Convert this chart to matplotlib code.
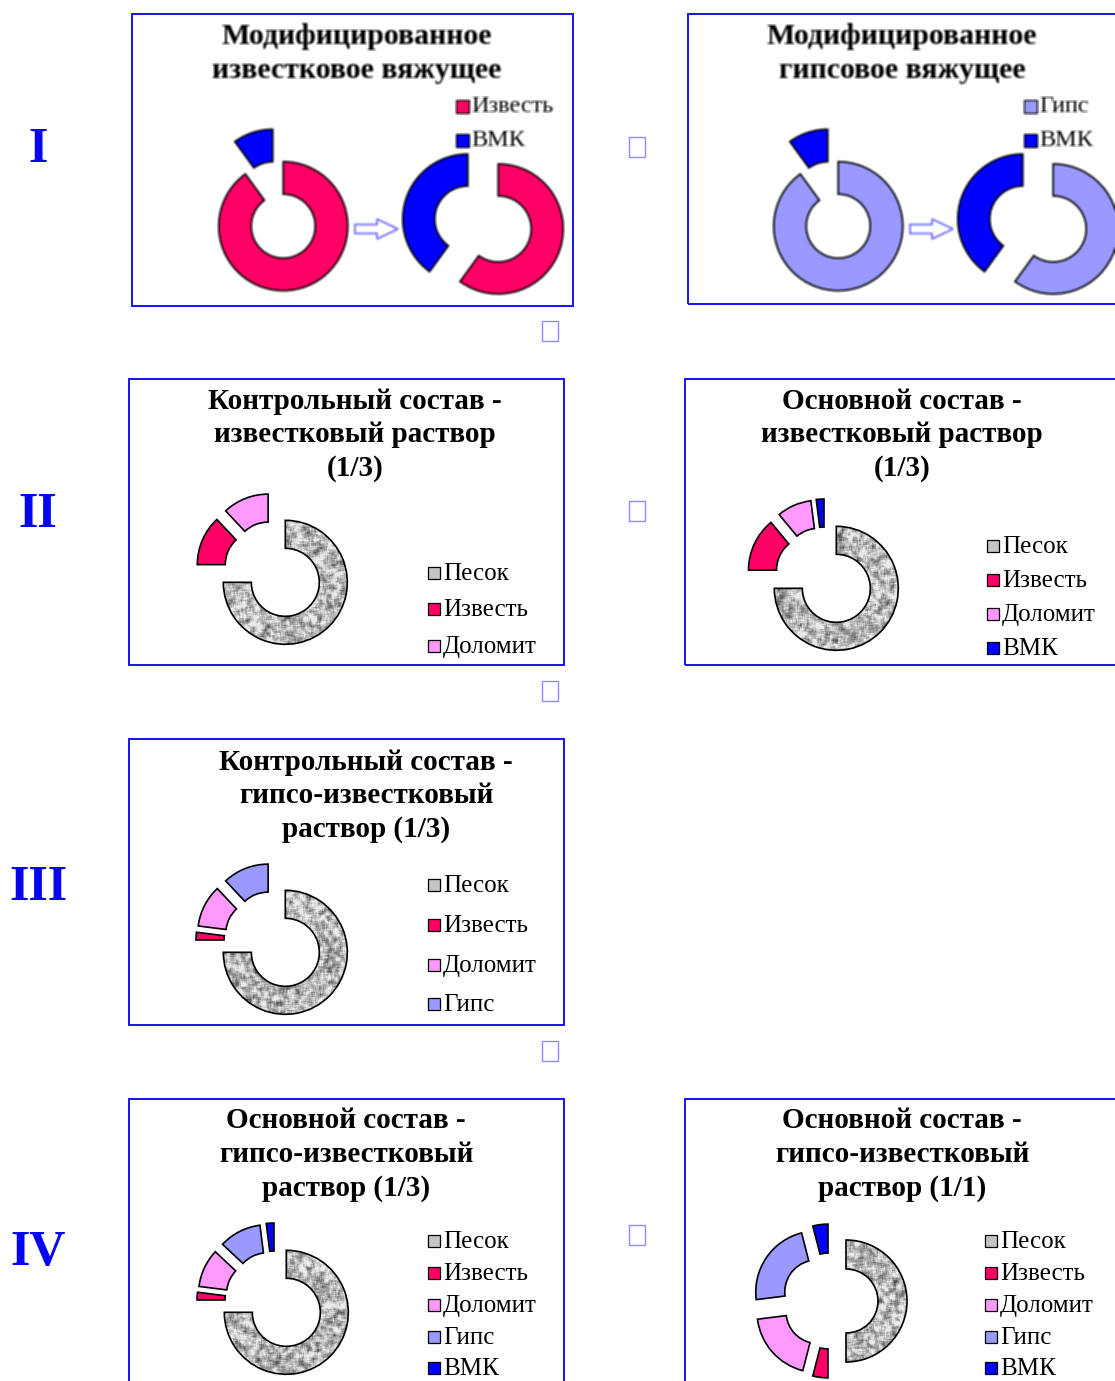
import numpy as np
import matplotlib
matplotlib.use('Agg')
import matplotlib.pyplot as plt
import matplotlib.patches as mpatches

W, H = 1115, 1381
DPI = 100
SERIF = ['Liberation Serif', 'DejaVu Serif']

COLORS = {
    'Песок': '#b8b8b8',
    'Известь': '#ff0066',
    'Доломит': '#ff99ff',
    'Гипс': '#9999ff',
    'ВМК': '#0000ff',
}
FRAME_C = '#1414f0'
BOX_C = '#8c8cff'
ARROW_C = '#6f6fff'

# I - модифицированные вяжущие (до / после модификации), %
lime_labels = ['Известь', 'ВМК']
lime_before = [90, 10]
lime_after = [60, 40]
gyps_labels = ['Гипс', 'ВМК']
gyps_before = [90, 10]
gyps_after = [60, 40]

# II-IV - составы растворов, %
ctrl_lime_labels = ['Песок', 'Известь', 'Доломит']
ctrl_lime = [75, 13, 12]
main_lime_labels = ['Песок', 'Известь', 'Доломит', 'ВМК']
main_lime = [75, 14, 9, 2]
ctrl_gyps_labels = ['Песок', 'Известь', 'Доломит', 'Гипс']
ctrl_gyps = [75, 2, 11, 12]
main_gyps_labels = ['Песок', 'Известь', 'Доломит', 'Гипс', 'ВМК']
main_gyps_13 = [75, 2, 10, 11, 2]
main_gyps_11 = [50, 4, 19, 23, 4]

numerals = ['I', 'II', 'III', 'IV']


def Y(y):
    return H - y


def smooth(a, k, wrap=True):
    # box-фильтр (2k+1)x(2k+1)
    n, m = a.shape
    src = a if wrap else np.pad(a, k, mode='edge')
    out = np.zeros_like(src)
    for i in range(-k, k + 1):
        for j in range(-k, k + 1):
            out += np.roll(np.roll(src, i, 0), j, 1)
    out /= (2 * k + 1) ** 2
    return out if wrap else out[k:k + n, k:k + m]


def granite(n, seed):
    # серая "гранитная" заливка для песка
    rng = np.random.default_rng(seed)
    fine = smooth(rng.random((n, n)), 1)
    coarse = smooth(rng.random((n, n)), 2)
    tex = 0.72 + 0.5 * (fine - 0.5) + 2.1 * (coarse - 0.5)
    return np.clip(tex, 0.32, 0.92)


def donut(ax, cx, cy, labels, values, r=62, hole=34, gap=16, seed=0):
    wedges, _ = ax.pie(values, radius=r, center=(cx, Y(cy)), startangle=90,
                       counterclock=False, explode=[gap] * len(values),
                       colors=[COLORS[l] for l in labels], frame=True,
                       wedgeprops=dict(width=r - hole, edgecolor='black', linewidth=1.2))
    for w, lab in zip(wedges, labels):
        if lab == 'Песок':
            w.set_facecolor('none')
            n = int(2 * (r + gap)) + 8
            im = ax.imshow(granite(n, seed), cmap='gray', vmin=0, vmax=1,
                           interpolation='bilinear', zorder=0.9,
                           extent=(cx - n / 2, cx + n / 2, Y(cy) - n / 2, Y(cy) + n / 2))
            im.set_clip_path(w)
    return wedges


def legend(ax, x, ys, labels, fs=18, sq=12):
    for y, lab in zip(ys, labels):
        fc = '#c4c4c4' if lab == 'Песок' else COLORS[lab]
        ax.add_patch(mpatches.Rectangle((x - sq / 2, Y(y) - sq / 2), sq, sq,
                                        facecolor=fc, edgecolor='black', lw=0.9))
        ax.text(x + sq / 2 + 3, Y(y) - 1, lab, fontsize=fs, family=SERIF,
                va='center', ha='left')


def title(ax, x, ys, lines, fs=21):
    for y, s in zip(ys, lines):
        ax.text(x, Y(y), s, fontsize=fs, family=SERIF, fontweight='bold',
                ha='center', va='center')


def frame(ax, x0, y0, x1, y1):
    ax.add_patch(mpatches.Rectangle((x0, Y(y1)), x1 - x0, y1 - y0, fill=False,
                                    edgecolor=FRAME_C, lw=1.4, zorder=5))


def blur(img, passes=1):
    for _ in range(passes):
        img = np.stack([smooth(img[..., c], 1, wrap=False) for c in range(3)], axis=-1)
    return img


def binder_panel(ax, x0, y0, x1, y1, lines, tx, labels, before, after, lx, dx):
    # верхние схемы рисуются отдельно и вставляются растром
    w, h = x1 - x0, y1 - y0
    f = plt.figure(figsize=(w / DPI, h / DPI), dpi=DPI)
    a = f.add_axes([0, 0, 1, 1])
    title(a, tx, [37, 71], lines, fs=21.5)
    legend(a, lx, [106, 140], labels, fs=17.5, sq=13)
    donut(a, 278 + dx, 210, labels, before, r=64.5, hole=32, gap=17)
    donut(a, 483 + dx, 224, labels, after, r=65, hole=33, gap=16)
    a.add_patch(mpatches.FancyArrow(355 + dx, Y(229), 43, 0, width=9, head_width=20,
                                    head_length=21, length_includes_head=True,
                                    facecolor='white', edgecolor=ARROW_C, lw=1.3))
    a.set_xlim(x0, x1)
    a.set_ylim(Y(y1), Y(y0))
    a.set_aspect('auto')
    a.axis('off')
    f.canvas.draw()
    img = np.asarray(f.canvas.buffer_rgba())[..., :3].astype(float) / 255
    plt.close(f)
    ax.imshow(blur(img, 1), extent=(x0, x1, Y(y1), Y(y0)), interpolation='nearest', zorder=0)


fig = plt.figure(figsize=(W / DPI, H / DPI), dpi=DPI)
ax = fig.add_axes([0, 0, 1, 1])

# I
binder_panel(ax, 134, 16, 572, 305, ['Модифицированное', 'известковое вяжущее'], 357,
             lime_labels, lime_before, lime_after, 462, 0)
binder_panel(ax, 690, 16, W, 303, ['Модифицированное', 'гипсовое вяжущее'], 902,
             gyps_labels, gyps_before, gyps_after, 1030, 555)
frame(ax, 132, 14, 573, 306)
frame(ax, 688, 14, W + 20, 304)

# II
frame(ax, 129, 379, 564, 665)
title(ax, 355, [401, 434, 468], ['Контрольный состав -', 'известковый раствор', '(1/3)'])
donut(ax, 274, 571, ctrl_lime_labels, ctrl_lime, seed=1)
legend(ax, 434, [573, 609, 646], ctrl_lime_labels)

frame(ax, 685, 379, W + 20, 665)
title(ax, 902, [401, 434, 468], ['Основной состав -', 'известковый раствор', '(1/3)'])
donut(ax, 825, 577, main_lime_labels, main_lime, seed=2)
legend(ax, 993, [546, 580, 614, 648], main_lime_labels)

# III
frame(ax, 129, 739, 564, 1025)
title(ax, 366, [762, 795, 829], ['Контрольный состав -', 'гипсо-известковый', 'раствор (1/3)'])
donut(ax, 274, 941, ctrl_gyps_labels, ctrl_gyps, seed=3)
legend(ax, 434, [885, 925, 965, 1004], ctrl_gyps_labels)

# IV
frame(ax, 129, 1099, 564, H + 20)
title(ax, 346, [1121, 1155, 1189], ['Основной состав -', 'гипсо-известковый', 'раствор (1/3)'])
donut(ax, 275, 1301, main_gyps_labels, main_gyps_13, seed=4)
legend(ax, 434, [1241, 1273, 1305, 1337, 1368], main_gyps_labels)

frame(ax, 685, 1099, W + 20, H + 20)
title(ax, 902, [1121, 1155, 1189], ['Основной состав -', 'гипсо-известковый', 'раствор (1/1)'])
donut(ax, 830, 1301, main_gyps_labels, main_gyps_11, r=61, hole=32, seed=5)
legend(ax, 991, [1241, 1273, 1305, 1337, 1368], main_gyps_labels)

# римские номера групп
for s, y in zip(numerals, [146, 511, 884, 1249]):
    ax.text(38, Y(y) - 4, s, fontsize=36, family=SERIF, fontweight='bold',
            color='#0505f0', ha='center', va='center')

# пустые рамки-заглушки
for bx, by in [(637, 147), (550, 331), (637, 511), (550, 691), (550, 1051), (637, 1235)]:
    ax.add_patch(mpatches.Rectangle((bx - 8, Y(by) - 10), 16, 20, fill=False,
                                    edgecolor=BOX_C, lw=1.0))

ax.set_xlim(0, W)
ax.set_ylim(0, H)
ax.set_aspect('auto')
ax.axis('off')
fig.savefig('out.png', dpi=DPI)
